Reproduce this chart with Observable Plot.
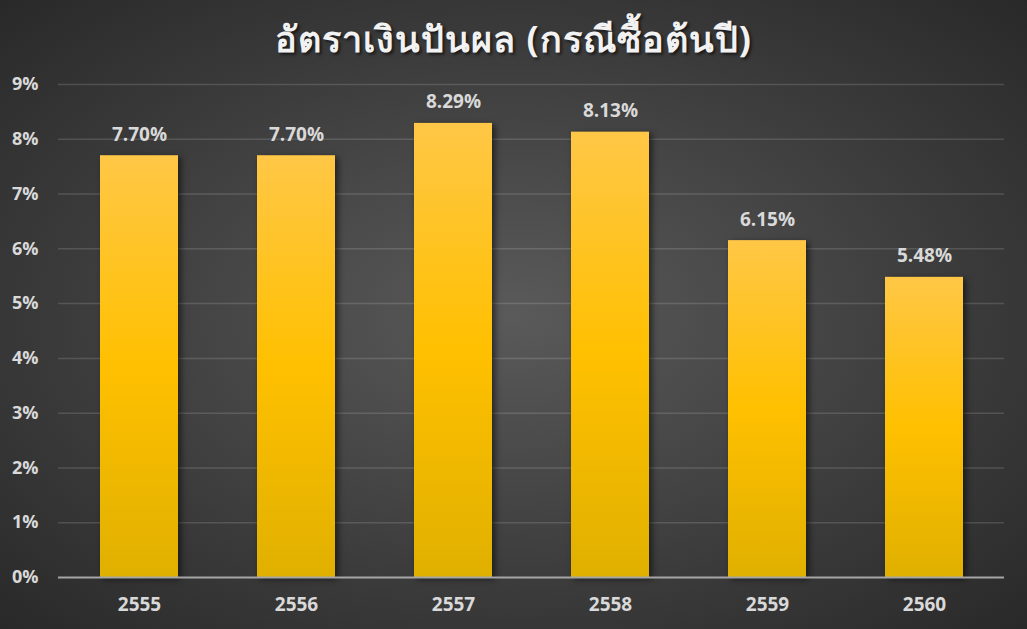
<!DOCTYPE html>
<html>
<head>
<meta charset="utf-8">
<script src="https://cdn.jsdelivr.net/npm/d3@7"></script>
<script src="https://cdn.jsdelivr.net/npm/@observablehq/plot@0.6"></script>
<style>
  html, body { margin: 0; padding: 0; background: #262626; }
  #chart {
    width: 1027px; height: 629px; overflow: hidden; position: relative;
    background: radial-gradient(ellipse 75% 75% at 50% 50%, #5a5a5a 0%, #3a3a3a 60%, #262626 100%);
    font-family: "Open Sans", "Noto Sans", sans-serif;
  }
  #title {
    height: 75px; line-height: 78px; text-align: center;
    font-size: 36px; font-weight: bold; color: #f2f2f2;
    letter-spacing: 1px;
    text-shadow: 2px 2px 3px rgba(0,0,0,0.6);
    white-space: nowrap;
  }
  svg { display: block; }
</style>
</head>
<body>
<div id="chart">
  <div id="title">อัตราเงินปันผล (กรณีซื้อต้นปี)</div>
</div>
<script>
const years = ["2555", "2556", "2557", "2558", "2559", "2560"];
const rates = [7.70, 7.70, 8.29, 8.13, 6.15, 5.48];
const yTicks = [0, 1, 2, 3, 4, 5, 6, 7, 8, 9];

const data = years.map((y, i) => ({year: y, rate: rates[i]}));

const plot = Plot.plot({
  width: 1027,
  height: 554,
  marginTop: 9,
  marginBottom: 52,
  marginLeft: 58,
  marginRight: 23,
  style: {
    background: "transparent",
    color: "#d9d9d9",
    fontFamily: "'Open Sans', 'Noto Sans', sans-serif",
    fontSize: "18px",
    fontWeight: "bold",
    overflow: "visible"
  },
  x: {domain: years, paddingInner: 0.505, paddingOuter: 0.2525, label: null},
  y: {domain: [0, 9], label: null},
  marks: [
    Plot.gridY(yTicks.filter(d => d > 0), {stroke: "#ffffff", strokeOpacity: 0.14, strokeWidth: 1.5}),
    Plot.axisY(yTicks, {tickSize: 0, tickPadding: 20, tickFormat: d => d + "%", label: null}),
    Plot.axisX({tickSize: 0, tickPadding: 20, label: null, fontSize: 19}),
    Plot.barY(data, {
      x: "year", y: "rate", fill: "url(#barGrad)",
      imageFilter: "drop-shadow(3px 2px 3px rgba(0,0,0,0.55))"
    }),
    Plot.ruleY([0], {stroke: "#a6a6a6", strokeWidth: 2}),
    Plot.text(data, {
      x: "year", y: "rate", text: d => d.rate.toFixed(2) + "%",
      dy: -21, fontSize: 19, fontWeight: "bold", fill: "#d9d9d9"
    })
  ]
});

const defs = d3.select(plot).insert("defs", ":first-child");
const g = defs.append("linearGradient")
  .attr("id", "barGrad").attr("x1", 0).attr("y1", 0).attr("x2", 0).attr("y2", 1);
g.append("stop").attr("offset", "0%").attr("stop-color", "#ffc746");
g.append("stop").attr("offset", "50%").attr("stop-color", "#ffc000");
g.append("stop").attr("offset", "100%").attr("stop-color", "#e0b000");

document.getElementById("chart").appendChild(plot);
</script>
</body>
</html>
